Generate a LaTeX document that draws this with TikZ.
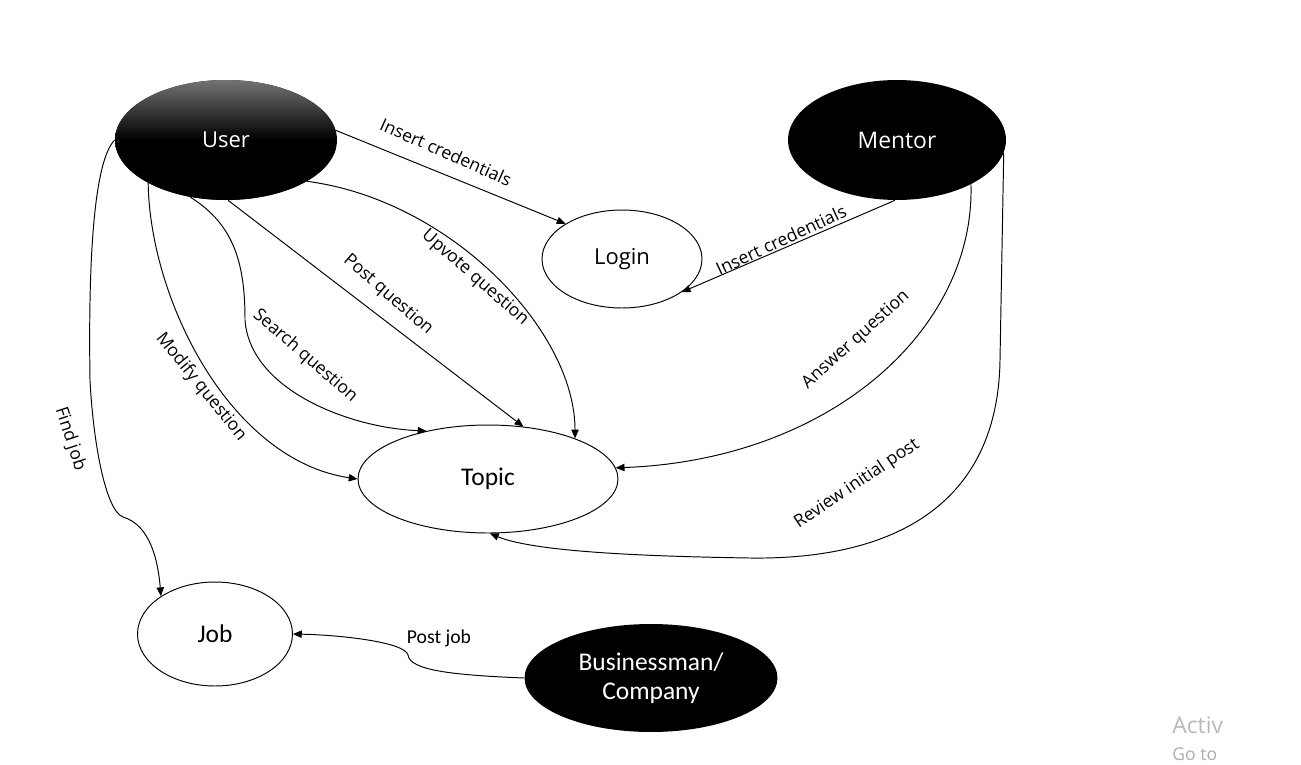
\documentclass[tikz,border=0pt]{standalone}
\usepackage{fontspec}
\setmainfont{Open Sans}
\newfontfamily\calfont{Carlito}
\usetikzlibrary{arrows.meta}
\usetikzlibrary{shapes.geometric}

\tikzset{
  actor/.style={ellipse, fill=black, text=white, inner sep=0pt},
  proc/.style={ellipse, draw, inner sep=0pt, line width=0.55pt},
  lbl/.style={inner sep=0pt, font=\fontsize{10}{12}\selectfont},
  flow/.style={-{Triangle[length=5pt,width=4.2pt]}, line width=0.55pt},
}

\begin{document}
\begin{tikzpicture}[x=0.02cm, y=-0.02cm]
    \fill [white] (0, 0) rectangle (1301, 764);
    \useasboundingbox (0, 0) rectangle (1301, 764);

    % actors
    \node [actor, minimum width=4.44cm, minimum height=2.4cm, top color=black!55, bottom color=black, middle color=black, font=\fontsize{12.5}{14}\selectfont] (user) at (226, 140) {User};
    \node [actor, minimum width=4.36cm, minimum height=2.4cm, font=\fontsize{13}{15}\selectfont] (mentor) at (897, 140) {Mentor};
    \node [actor, minimum width=5.06cm, minimum height=2.16cm, align=center, font=\calfont\fontsize{14.5}{16.5}\selectfont] (biz) at (651, 678) {Businessman/\\Company};

    % processes
    \node [proc, minimum width=3.2cm, minimum height=1.96cm, font=\fontsize{12.5}{14}\selectfont] (login) at (622, 259) {Login};
    \node [proc, minimum width=5.2cm, minimum height=2.16cm, font=\calfont\fontsize{14.5}{16}\selectfont] (topic) at (488, 479) {Topic};
    \node [proc, minimum width=3.1cm, minimum height=2.08cm, font=\calfont\fontsize{14.5}{16}\selectfont] (job) at (215, 634) {Job};

    % flows
    \draw [flow] (user.5) -- (login.148);
    \draw [flow] (mentor.-92) -- (login.-29);
    \draw [flow] (user.-27) .. controls (450, 200) and (575, 330) .. (topic.25);
    \draw [flow] (user.-88) -- (topic.56);
    \draw [flow] (user.-122) .. controls (235, 225) and (245, 265) .. (245, 320) .. controls (250, 390) and (350, 428) .. (topic.142);
    \draw [flow] (user.-151) .. controls (150, 300) and (230, 460) .. (topic.180);
    \draw [flow] (user.180) .. controls (95, 160) and (88, 250) .. (90, 380) .. controls (93, 440) and (105, 510) .. (123, 517) .. controls (150, 525) and (158, 560) .. (job.145);
    \draw [flow] (mentor.-31) .. controls (975, 330) and (830, 460) .. (topic.5);
    \draw [flow] (mentor.-7) -- (1000, 360) .. controls (998, 500) and (900, 560) .. (750, 558) .. controls (620, 556) and (530, 550) .. (topic.-88);
    \draw [flow] (biz.180) .. controls (450, 675) and (410, 670) .. (408, 655) .. controls (405, 642) and (340, 635) .. (job.0);

    % labels
    \node [lbl, rotate=-24] (lcredu) at (446, 152) {Insert credentials};
    \node [lbl, rotate=-41] (lupvote) at (475, 278) {Upvote question};
    \node [lbl, rotate=-41] (lpost) at (388, 295) {Post question};
    \node [lbl, rotate=-41] (lsearch) at (305, 356) {Search question};
    \node [lbl, rotate=-51] (lmodify) at (201, 387) {Modify question};
    \node [lbl, rotate=-72] (lfind) at (70, 439) {Find job};
    \node [lbl, rotate=25] (lcredm) at (781, 240) {Insert credentials};
    \node [lbl, rotate=42] (lanswer) at (856, 340) {Answer question};
    \node [lbl, rotate=34] (lreview) at (857, 484) {Review initial post};
    \node [lbl, font=\calfont\fontsize{11.2}{13}\selectfont] (lpostjob) at (439, 638) {Post job};

    % watermark
    \node [anchor=base west, inner sep=0pt, text=black!28, font=\fontsize{13}{15}\selectfont] (wact) at (1172, 733) {Activ};
    \node [anchor=base west, inner sep=0pt, text=black!32, font=\fontsize{10}{12}\selectfont] (wgo) at (1172, 760) {Go to};
\end{tikzpicture}
\end{document}
